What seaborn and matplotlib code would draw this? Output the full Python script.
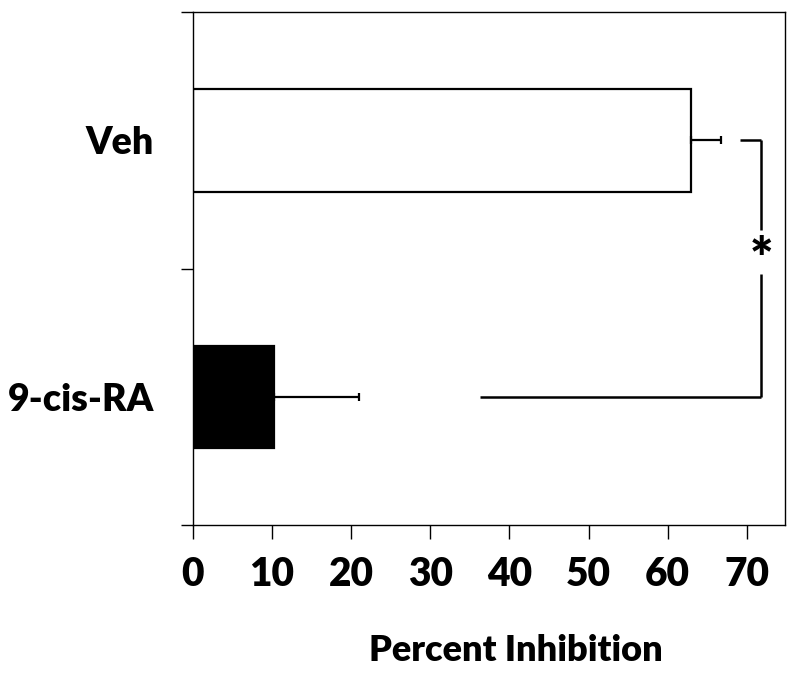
import matplotlib
matplotlib.use("Agg")
import matplotlib.pyplot as plt
import seaborn as sns
import pandas as pd
import numpy as np

categories = ["Veh", "9-cis-RA"]
values = [62.9, 10.2]
errors = [3.8, 10.8]
bar_colors = ["white", "black"]
xticks = [0, 10, 20, 30, 40, 50, 60, 70]
xlabel = "Percent Inhibition"

sns.set_theme(style="white")
plt.rcParams["font.family"] = ["Lato", "DejaVu Sans"]
plt.rcParams["text.color"] = "black"
plt.rcParams["axes.labelcolor"] = "black"
plt.rcParams["xtick.color"] = "black"
plt.rcParams["ytick.color"] = "black"

df = pd.DataFrame({"cat": categories, "val": values})

fig = plt.figure(figsize=(8, 6.74), dpi=100)
ax = fig.add_axes([0.241, 0.221, 0.74, 0.761])

sns.barplot(data=df, x="val", y="cat", hue="cat", palette=bar_colors, orient="h",
            width=0.4, edgecolor="black", linewidth=1.6, errorbar=None, legend=False, ax=ax)

ypos = np.arange(len(categories))
ax.errorbar(values, ypos, xerr=[np.zeros(len(errors)), errors], fmt="none",
            ecolor="black", elinewidth=1.6, capsize=3, capthick=1.6)

# significance bracket
bx = 71.8
ax.plot([69.2, bx], [0, 0], color="black", lw=1.8, solid_capstyle="butt")
ax.plot([bx, bx], [0, 0.35], color="black", lw=1.8, solid_capstyle="butt")
ax.plot([bx, bx], [0.52, 1], color="black", lw=1.8, solid_capstyle="butt")
ax.plot([36.3, bx], [1, 1], color="black", lw=1.8, solid_capstyle="butt")
ax.text(bx, 0.47, "*", ha="center", va="center", fontsize=40, fontweight="heavy", color="black")

ax.set_xlim(-0.0, 74.8)
ax.set_ylim(1.5, -0.5)
ax.set_xticks(xticks)
ax.set_xticklabels([str(t) for t in xticks], fontsize=28, fontweight="heavy", color="black")
ax.set_yticks(ypos)
ax.set_yticklabels(categories, fontsize=27, fontweight="heavy", color="black")
ax.set_yticks([-0.5, 0.5, 1.5], minor=True)
ax.tick_params(axis="y", which="major", length=0, pad=28)
ax.tick_params(axis="y", which="minor", left=True, length=9, width=1, color="black", direction="out")
ax.tick_params(axis="x", which="major", bottom=True, length=10, width=1, color="black",
               direction="out", pad=12)
ax.set_ylabel("")
ax.set_xlabel(xlabel, fontsize=26, fontweight="heavy", color="black")
ax.xaxis.set_label_coords(0.546, -0.245)
ax.xaxis.label.set_va("center")

for s in ax.spines.values():
    s.set_visible(True)
    s.set_color("black")
    s.set_linewidth(1)

fig.savefig("out.png", dpi=100, facecolor="white")
